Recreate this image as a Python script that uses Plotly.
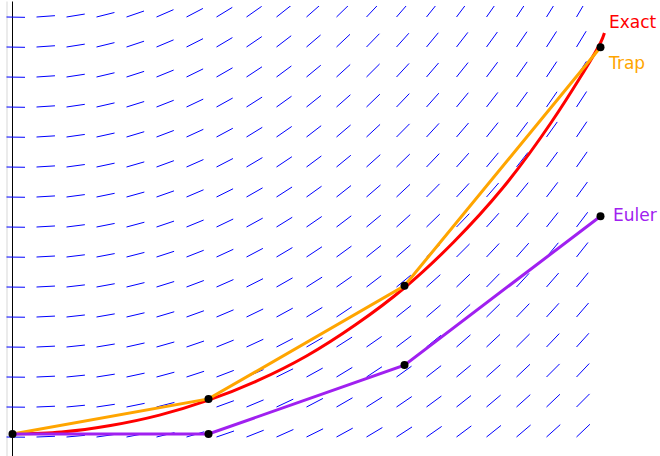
import numpy as np
import plotly.graph_objects as go

# ---------------- data ----------------
step_x = [0, 1, 2, 3]
euler_y = [0, 0, 1.06, 3.35]
trap_y = [0, 0.54, 2.28, 5.95]
exact_x = [0, 0.25, 0.5, 0.75, 1.0, 1.25, 1.5, 1.75, 2.0, 2.25, 2.5, 2.75, 3.0, 3.02]
exact_y = [0, 0.03, 0.13, 0.29, 0.52, 0.82, 1.20, 1.68, 2.25, 2.95, 3.78, 4.80, 6.02, 6.17]
series_labels = ["Exact", "Trap", "Euler"]

# ODE behind the slope field: dy/dx = x * (1 + c*y)
ode_c = 0.12


def slope(x, y):
    return x * (1 + ode_c * y)


# ---------------- geometry ----------------
W, H = 660, 456
TOP = 6
PX_X = 196.0          # px per x unit
PX_Y = 65.0           # px per y unit
X0_PX = 12.5          # px of x = 0
Y0_PX = 434.0         # px of y = 0
x_range = [-X0_PX / PX_X, (W - X0_PX) / PX_X]
y_range = [(Y0_PX - H) / PX_Y, (Y0_PX - TOP) / PX_Y]

# slope-field grid (segments start at grid points, fixed pixel length)
seg_len = 18.5
gx, gy = [], []
for k in range(20):
    px = 6.5 + 30 * k
    xd = (px - X0_PX) / PX_X
    for j in range(15):
        py = 437 - 30 * j
        yd = (Y0_PX - py) / PX_Y
        m = slope(xd, yd) * PX_Y / PX_X
        dxp = seg_len / np.sqrt(1 + m * m)
        dyp = dxp * m
        gx += [xd, xd + dxp / PX_X, None]
        gy += [yd, yd + dyp / PX_Y, None]

fig = go.Figure()
fig.add_trace(go.Scatter(x=gx, y=gy, mode="lines",
                         line=dict(color="#0000ff", width=1), hoverinfo="skip"))
fig.add_trace(go.Scatter(x=exact_x, y=exact_y, mode="lines",
                         line=dict(color="#ff0000", width=3, shape="spline"),
                         name=series_labels[0]))
fig.add_trace(go.Scatter(x=step_x, y=trap_y, mode="lines",
                         line=dict(color="#ffa500", width=3), name=series_labels[1]))
fig.add_trace(go.Scatter(x=step_x, y=euler_y, mode="lines",
                         line=dict(color="#a020f0", width=3), name=series_labels[2]))
fig.add_trace(go.Scatter(x=step_x + step_x[1:], y=euler_y + trap_y[1:], mode="markers",
                         marker=dict(color="black", size=8), hoverinfo="skip"))

# axis line and left border strip
fig.add_shape(type="line", xref="x", yref="paper", x0=0, x1=0, y0=0, y1=1.01,
              line=dict(color="black", width=1), layer="below")
fig.add_shape(type="line", xref="paper", yref="paper", x0=7 / W, x1=7 / W, y0=0, y1=1.01,
              line=dict(color="#ebebeb", width=2), layer="below")

label_font = "DejaVu Sans"
labels = [("Exact", "#ff0000", 607, 22), ("Trap", "#ffa500", 606, 63), ("Euler", "#a020f0", 611, 215)]
for txt, col, px, py in labels:
    fig.add_annotation(text=txt, xref="paper", yref="paper",
                       x=px / W, y=(H - py) / (H - TOP), xanchor="left", yanchor="middle",
                       showarrow=False, font=dict(family=label_font, size=17, color=col))

fig.update_layout(
    width=W, height=H, margin=dict(l=0, r=0, t=TOP, b=0, pad=0),
    paper_bgcolor="white", plot_bgcolor="white", showlegend=False,
    xaxis=dict(range=x_range, visible=False, fixedrange=True),
    yaxis=dict(range=y_range, visible=False, fixedrange=True),
)
fig.write_html(
    "out.html",
    config={"displayModeBar": False},
    post_script="document.body.style.margin='0';document.body.style.padding='0';"
                "document.documentElement.style.overflow='hidden';",
)
